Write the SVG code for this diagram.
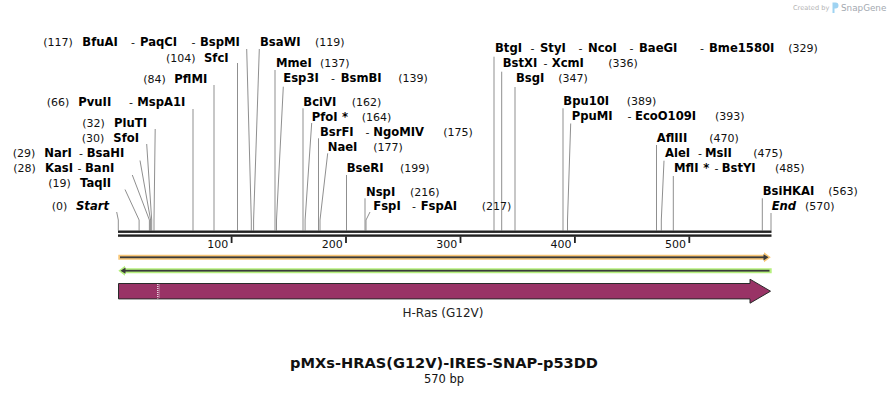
<svg xmlns="http://www.w3.org/2000/svg" width="890" height="394" viewBox="0 0 890 394">
<style>
text{font-family:"DejaVu Sans","Liberation Sans",sans-serif;fill:#111}
.n{font-size:11.6px;font-weight:bold;fill:#000}
.p{font-size:11px}
.i{font-style:italic}
.c{fill:none;stroke:#8f8f8f;stroke-width:1}
.bb{fill:#222}
.tick{fill:#222}
.num{font-size:11px;text-anchor:end}
</style>
<rect width="890" height="394" fill="#fff"/>

<g id="watermark">
<text x="793" y="10" style="font-size:6.6px;fill:#b4b4b4">Created by</text>
<path d="M832.5 2.5 h3 a3 3 0 0 1 0 6 h-1 v4.5 h-2 z" fill="#9fd3f2"/>
<text x="841" y="11" style="font-size:8.8px;fill:#a3a9b0">SnapGene</text>
</g>

<g id="connectors">
<polyline class="c" points="116.7,212 118.3,220 118.3,230.5"/>
<polyline class="c" points="125,189.5 139.1,220 139.1,230.5"/>
<polyline class="c" points="132.3,175 149.4,220 149.4,230.5"/>
<polyline class="c" points="140,160.5 150.6,220 150.6,230.5"/>
<polyline class="c" points="146.7,144 151.7,220 151.7,230.5"/>
<polyline class="c" points="155.2,129 154,220 154,230.5"/>
<polyline class="c" points="193,109 193,230.5"/>
<polyline class="c" points="214,85 214,230.5"/>
<polyline class="c" points="237.5,63 237.5,230.5"/>
<polyline class="c" points="246.7,49 251.3,220 251.3,230.5"/>
<polyline class="c" points="259.3,49 253.6,220 253.6,230.5"/>
<polyline class="c" points="275,70 275,230.5"/>
<polyline class="c" points="283.3,86.7 276.5,220 276.5,230.5"/>
<polyline class="c" points="303,108.3 303,230.5"/>
<polyline class="c" points="311.7,123 305.1,220 305.1,230.5"/>
<polyline class="c" points="318.5,138.3 318.5,230.5"/>
<polyline class="c" points="327.7,153.3 320,220 320,230.5"/>
<polyline class="c" points="346.5,175 346.5,230.5"/>
<polyline class="c" points="365,198.3 365,230.5"/>
<polyline class="c" points="370,212 366,220 366,230.5"/>
<polyline class="c" points="494,56.7 494,230.5"/>
<polyline class="c" points="501.7,71.7 501.7,230.5"/>
<polyline class="c" points="515,87 515,230.5"/>
<polyline class="c" points="563,108.3 563,230.5"/>
<polyline class="c" points="570.7,123.5 567.5,220 567.5,230.5"/>
<polyline class="c" points="656.5,145 656.5,230.5"/>
<polyline class="c" points="664,160.7 661.3,220 661.3,230.5"/>
<polyline class="c" points="673.3,176 673.3,230.5"/>
<polyline class="c" points="762.3,198.3 762.3,230.5"/>
<polyline class="c" points="771,213 771,230.5"/>
</g>

<g id="site-start"><text y="210"><tspan class="p" x="51.7">(0)</tspan><tspan class="n i" x="76">Start</tspan></text></g>
<g id="site-taqii"><text y="187.3"><tspan class="p" x="48.3">(19)</tspan><tspan class="n" x="80">TaqII</tspan></text></g>
<g id="site-kasi"><text y="172.3"><tspan class="p" x="13.3">(28)</tspan><tspan class="n" x="45">KasI</tspan><tspan class="p" x="77.5">-</tspan><tspan class="n" x="85">BanI</tspan></text></g>
<g id="site-nari"><text y="157.3"><tspan class="p" x="12.7">(29)</tspan><tspan class="n" x="44.3">NarI</tspan><tspan class="p" x="79">-</tspan><tspan class="n" x="86.7">BsaHI</tspan></text></g>
<g id="site-sfoi"><text y="142.3"><tspan class="p" x="81.7">(30)</tspan><tspan class="n" x="113.3">SfoI</tspan></text></g>
<g id="site-pluti"><text y="127.3"><tspan class="p" x="82.3">(32)</tspan><tspan class="n" x="114">PluTI</tspan></text></g>
<g id="site-pvuii"><text y="105.7"><tspan class="p" x="46.7">(66)</tspan><tspan class="n" x="78.3">PvuII</tspan><tspan class="p" x="129">-</tspan><tspan class="n" x="137.3">MspA1I</tspan></text></g>
<g id="site-pflmi"><text y="83.3"><tspan class="p" x="143.3">(84)</tspan><tspan class="n" x="174.3">PflMI</tspan></text></g>
<g id="site-sfci"><text y="61.7"><tspan class="p" x="166">(104)</tspan><tspan class="n" x="204">SfcI</tspan></text></g>
<g id="site-bfuai"><text y="46"><tspan class="p" x="43.3">(117)</tspan><tspan class="n" x="82.3">BfuAI</tspan><tspan class="p" x="131">-</tspan><tspan class="n" x="140">PaqCI</tspan><tspan class="p" x="191.5">-</tspan><tspan class="n" x="200">BspMI</tspan></text></g>
<g id="site-bsawi"><text y="46"><tspan class="n" x="260">BsaWI</tspan><tspan class="p" x="315">(119)</tspan></text></g>
<g id="site-mmei"><text y="67.3"><tspan class="n" x="276">MmeI</tspan><tspan class="p" x="320">(137)</tspan></text></g>
<g id="site-esp3i"><text y="82.3"><tspan class="n" x="283.3">Esp3I</tspan><tspan class="p" x="331">-</tspan><tspan class="n" x="340.7">BsmBI</tspan><tspan class="p" x="398.3">(139)</tspan></text></g>
<g id="site-bcivi"><text y="105.7"><tspan class="n" x="303.3">BciVI</tspan><tspan class="p" x="351.7">(162)</tspan></text></g>
<g id="site-pfoi"><text y="120.7"><tspan class="n" x="311.7">PfoI</tspan><tspan class="n" x="342">*</tspan><tspan class="p" x="361.7">(164)</tspan></text></g>
<g id="site-bsrfi"><text y="135.7"><tspan class="n" x="320">BsrFI</tspan><tspan class="p" x="365.5">-</tspan><tspan class="n" x="373.3">NgoMIV</tspan><tspan class="p" x="443.3">(175)</tspan></text></g>
<g id="site-naei"><text y="150.7"><tspan class="n" x="327.7">NaeI</tspan><tspan class="p" x="373.3">(177)</tspan></text></g>
<g id="site-bseri"><text y="172.3"><tspan class="n" x="346.7">BseRI</tspan><tspan class="p" x="400">(199)</tspan></text></g>
<g id="site-nspi"><text y="195.7"><tspan class="n" x="366">NspI</tspan><tspan class="p" x="410">(216)</tspan></text></g>
<g id="site-fspi"><text y="210"><tspan class="n" x="373.3">FspI</tspan><tspan class="p" x="412">-</tspan><tspan class="n" x="420.7">FspAI</tspan><tspan class="p" x="481.7">(217)</tspan></text></g>
<g id="site-btgi"><text y="52.3"><tspan class="n" x="495">BtgI</tspan><tspan class="p" x="530.5">-</tspan><tspan class="n" x="540">StyI</tspan><tspan class="p" x="578.5">-</tspan><tspan class="n" x="588">NcoI</tspan><tspan class="p" x="629.5">-</tspan><tspan class="n" x="639">BaeGI</tspan><tspan class="p" x="700">-</tspan><tspan class="n" x="709">Bme1580I</tspan><tspan class="p" x="788.3">(329)</tspan></text></g>
<g id="site-bstxi"><text y="67.3"><tspan class="n" x="502.7">BstXI</tspan><tspan class="p" x="543.5">-</tspan><tspan class="n" x="551.7">XcmI</tspan><tspan class="p" x="608.3">(336)</tspan></text></g>
<g id="site-bsgi"><text y="82.3"><tspan class="n" x="516">BsgI</tspan><tspan class="p" x="558.3">(347)</tspan></text></g>
<g id="site-bpu10i"><text y="105"><tspan class="n" x="563.3">Bpu10I</tspan><tspan class="p" x="626.7">(389)</tspan></text></g>
<g id="site-ppumi"><text y="120"><tspan class="n" x="571.7">PpuMI</tspan><tspan class="p" x="627.5">-</tspan><tspan class="n" x="635">EcoO109I</tspan><tspan class="p" x="715">(393)</tspan></text></g>
<g id="site-afliii"><text y="142.3"><tspan class="n" x="656.7">AflIII</tspan><tspan class="p" x="709.3">(470)</tspan></text></g>
<g id="site-alei"><text y="157.3"><tspan class="n" x="665">AleI</tspan><tspan class="p" x="698">-</tspan><tspan class="n" x="705">MslI</tspan><tspan class="p" x="753.3">(475)</tspan></text></g>
<g id="site-mfli"><text y="172.3"><tspan class="n" x="674">MflI</tspan><tspan class="n" x="703.3">*</tspan><tspan class="p" x="714.5">-</tspan><tspan class="n" x="721.7">BstYI</tspan><tspan class="p" x="775">(485)</tspan></text></g>
<g id="site-bsihkai"><text y="195"><tspan class="n" x="762.7">BsiHKAI</tspan><tspan class="p" x="828.3">(563)</tspan></text></g>
<g id="site-end"><text y="210"><tspan class="n i" x="771.7">End</tspan><tspan class="p" x="805">(570)</tspan></text></g>

<g id="backbone">
<rect class="bb" x="118" y="230.5" width="653.5" height="2.4"/>
<rect class="bb" x="118" y="234.4" width="653.5" height="2.4"/>
<rect class="tick" x="230.7" y="236.5" width="1.8" height="6.5"/>
<rect class="tick" x="345.1" y="236.5" width="1.8" height="6.5"/>
<rect class="tick" x="459.6" y="236.5" width="1.8" height="6.5"/>
<rect class="tick" x="574" y="236.5" width="1.8" height="6.5"/>
<rect class="tick" x="688.4" y="236.5" width="1.8" height="6.5"/>
<text class="num" x="228.3" y="248">100</text>
<text class="num" x="342.7" y="248">200</text>
<text class="num" x="457.2" y="248">300</text>
<text class="num" x="571.6" y="248">400</text>
<text class="num" x="686" y="248">500</text>
</g>

<g id="orf-forward">
<polygon points="118.3,254.8 764,254.8 764,252.3 770.8,257.3 764,262.3 764,259.8 118.3,259.8" fill="#f7c677"/>
<rect x="120" y="256.4" width="644" height="1.8" fill="#3a3a3a"/>
<polygon points="763.5,254.2 768.5,257.3 763.5,260.4" fill="#3a3a3a"/>
</g>

<g id="orf-reverse">
<polygon points="118.3,270.7 125,265.7 125,268.2 771.7,268.2 771.7,273.2 125,273.2 125,275.7" fill="#b6f07e"/>
<rect x="125" y="269.8" width="644.5" height="1.8" fill="#3a3a3a"/>
<polygon points="125.5,267.6 120.5,270.7 125.5,273.8" fill="#3a3a3a"/>
</g>

<g id="feature-hras">
<polygon points="118.5,283.5 750,283.5 750,279.2 770.5,291.2 750,303.2 750,298.9 118.5,298.9" fill="#993366" stroke="#2a2a2a" stroke-width="1"/>
<line x1="157.8" y1="284" x2="157.8" y2="298.5" stroke="#ffffff" stroke-width="1.2" stroke-dasharray="1 1"/>
<line x1="159.2" y1="284.5" x2="159.2" y2="298.5" stroke="#e0d0da" stroke-width="0.8" stroke-dasharray="1 1"/>
<text x="443" y="317" style="font-size:12px;text-anchor:middle;fill:#222">H-Ras (G12V)</text>
</g>

<g id="title">
<text x="444" y="367.5" style="font-size:14.6px;font-weight:bold;text-anchor:middle">pMXs-HRAS(G12V)-IRES-SNAP-p53DD</text>
<text x="444" y="382.5" style="font-size:11.5px;text-anchor:middle">570 bp</text>
</g>
</svg>
